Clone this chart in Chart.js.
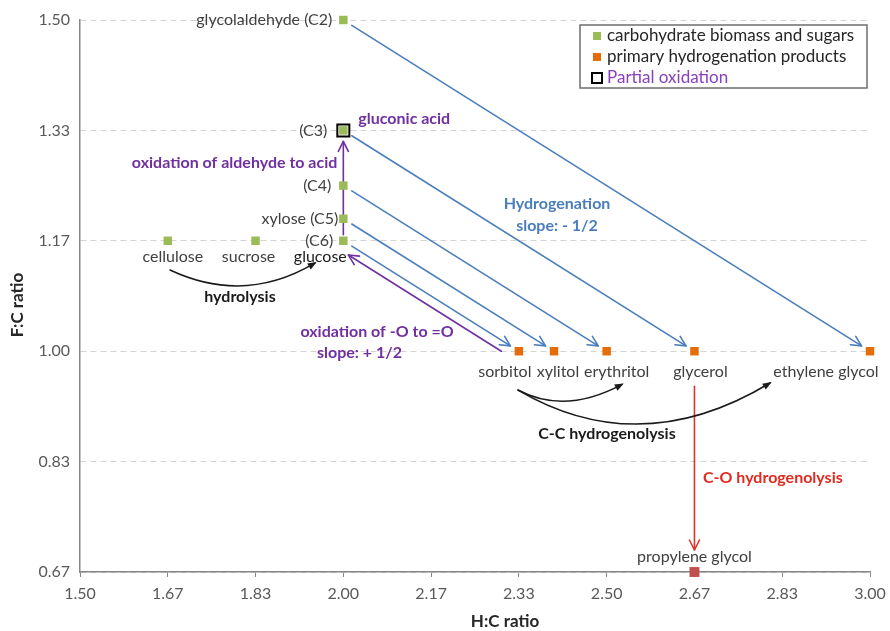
<!DOCTYPE html>
<html>
<head>
<meta charset="utf-8">
<script src="https://cdn.jsdelivr.net/npm/chart.js@4.4.1/dist/chart.umd.min.js"></script>
<style>
  html, body { margin: 0; padding: 0; background: #fff; }
  #wrap { width: 890px; height: 631px; position: relative; }
</style>
</head>
<body>
<div id="wrap"><canvas id="chart"></canvas></div>
<script>
// carbohydrate biomass and sugars
const carbNames = ['cellulose', 'sucrose', 'glucose', 'xylose', 'C4', 'C3', 'glycolaldehyde'];
const carbHC = [1.6667, 1.8333, 2.0, 2.0, 2.0, 2.0, 2.0];
const carbFC = [1.1667, 1.1667, 1.1667, 1.2, 1.25, 1.3333, 1.5];

// primary hydrogenation products
const productNames = ['sorbitol', 'xylitol', 'erythritol', 'glycerol', 'ethylene glycol'];
const productHC = [2.3333, 2.4, 2.5, 2.6667, 3.0];
const productFC = [1.0, 1.0, 1.0, 1.0, 1.0];

// C-O hydrogenolysis product
const glycolHC = [2.6667];
const glycolFC = [0.6667];

// partial oxidation (gluconic acid)
const oxidHC = [2.0];
const oxidFC = [1.3333];

// axis ticks
const xTickValues = [1.5, 1.6667, 1.8333, 2.0, 2.1667, 2.3333, 2.5, 2.6667, 2.8333, 3.0];
const yTickValues = [0.6667, 0.8333, 1.0, 1.1667, 1.3333, 1.5];

// hydrogenation: sugar index -> product index
const hydroFrom = [6, 5, 4, 3, 2];
const hydroTo = [4, 3, 2, 1, 0];

const GREEN = '#9bbb59';
const ORANGE = '#e46c0a';
const RED = '#c0504d';
const BLUE = '#4a7ebb';
const PURPLE = '#7030a0';
const TEXT = '#404040';
const FONT = 'Lato, "Open Sans", sans-serif';

const toPoints = (xs, ys) => xs.map((x, i) => ({ x: x, y: ys[i] }));

// free text placed in data space (x, y) with pixel nudges
const notes = [
  { text: 'glycolaldehyde (C2)', x: 2.0, y: 1.5, dx: -11, dy: 0, align: 'right' },
  { text: '(C3)', x: 2.0, y: 1.3333, dx: -16, dy: 0, align: 'right' },
  { text: 'gluconic acid', x: 2.0, y: 1.3333, dx: 15, dy: -12, align: 'left', bold: true, color: PURPLE },
  { text: 'oxidation of aldehyde to acid', x: 2.0, y: 1.3333, dx: -6, dy: 32, align: 'right', bold: true, color: PURPLE },
  { text: '(C4)', x: 2.0, y: 1.25, dx: -12, dy: 0, align: 'right' },
  { text: 'xylose (C5)', x: 2.0, y: 1.2, dx: -5, dy: 0, align: 'right' },
  { text: '(C6)', x: 2.0, y: 1.1667, dx: -10, dy: 0, align: 'right' },
  { text: 'cellulose', x: 1.6667, y: 1.1667, dx: 5, dy: 16 },
  { text: 'sucrose', x: 1.8333, y: 1.1667, dx: -7, dy: 16 },
  { text: 'glucose', x: 2.0, y: 1.1667, dx: -23, dy: 16, color: '#1a1a1a' },
  { text: 'hydrolysis', x: 1.8038, y: 1.0818, bold: true, color: '#1a1a1a' },
  { text: 'Hydrogenation', x: 2.4057, y: 1.2222, bold: true, color: BLUE },
  { text: 'slope: - 1/2', x: 2.4057, y: 1.1890, bold: true, color: BLUE },
  { text: 'oxidation of -O to =O', x: 2.0640, y: 1.0290, bold: true, color: PURPLE },
  { text: 'slope: + 1/2', x: 2.0307, y: 0.9973, bold: true, color: PURPLE },
  { text: 'sorbitol', x: 2.3333, y: 1.0, dx: -14, dy: 21 },
  { text: 'xylitol', x: 2.4, y: 1.0, dx: 4, dy: 21 },
  { text: 'erythritol', x: 2.5, y: 1.0, dx: 10, dy: 21 },
  { text: 'glycerol', x: 2.6667, y: 1.0, dx: 6, dy: 21 },
  { text: 'ethylene glycol', x: 3.0, y: 1.0, dx: -44, dy: 21 },
  { text: 'C-C hydrogenolysis', x: 2.5006, y: 0.8750, bold: true, color: '#1a1a1a' },
  { text: 'C-O hydrogenolysis', x: 2.6829, y: 0.8086, align: 'left', bold: true, color: '#e02b20' },
  { text: 'propylene glycol', x: 2.6667, y: 0.6667, dx: 0, dy: -15 }
];

// straight arrows in data space; gaps in px at each end
const arrows = [];
hydroFrom.forEach((s, i) => {
  arrows.push({ from: [carbHC[s], carbFC[s]], to: [productHC[hydroTo[i]], productFC[hydroTo[i]]], color: BLUE, g1: 10, g2: 10 });
});
arrows.push({ from: [2.3, 1.0], to: [2.0, 1.15], color: PURPLE, g1: 0, g2: 6 });
arrows.push({ from: [carbHC[2], carbFC[2]], to: [oxidHC[0], oxidFC[0]], color: PURPLE, g1: 6, g2: 11 });
arrows.push({ from: [productHC[3], productFC[3]], to: [glycolHC[0], glycolFC[0]], color: '#d9362b', g1: 35, g2: 22 });

// curved arrows (quadratic) in data space
const curves = [
  { from: [1.6709, 1.1226], ctrl: [1.8133, 1.0697], to: [1.9462, 1.1332] },
  { from: [2.3316, 0.9414], ctrl: [2.4209, 0.9037], to: [2.5291, 0.9500] },
  { from: [2.3316, 0.9414], ctrl: [2.5633, 0.8335], to: [2.8101, 0.9520] }
];

const legendItems = [
  { text: 'carbohydrate biomass and sugars', fill: GREEN, color: '#262626' },
  { text: 'primary hydrogenation products', fill: ORANGE, color: '#262626' },
  { text: 'Partial oxidation', fill: null, color: '#8a3fc0' }
];

function openHead(ctx, ex, ey, ux, uy, len, half) {
  const px = -uy, py = ux;
  ctx.beginPath();
  ctx.moveTo(ex - ux * len + px * half, ey - uy * len + py * half);
  ctx.lineTo(ex, ey);
  ctx.lineTo(ex - ux * len - px * half, ey - uy * len - py * half);
  ctx.stroke();
}

const annotate = {
  id: 'annotate',
  beforeDatasetsDraw(chart) {
    const { ctx, scales } = chart;
    const X = v => scales.x.getPixelForValue(v);
    const Y = v => scales.y.getPixelForValue(v);
    ctx.save();
    ctx.lineCap = 'round';
    ctx.lineJoin = 'round';
    arrows.forEach(a => {
      const x1 = X(a.from[0]), y1 = Y(a.from[1]), x2 = X(a.to[0]), y2 = Y(a.to[1]);
      const len = Math.hypot(x2 - x1, y2 - y1);
      const ux = (x2 - x1) / len, uy = (y2 - y1) / len;
      const sx = x1 + ux * a.g1, sy = y1 + uy * a.g1;
      const ex = x2 - ux * a.g2, ey = y2 - uy * a.g2;
      ctx.strokeStyle = a.color;
      ctx.lineWidth = 1.6;
      ctx.beginPath();
      ctx.moveTo(sx, sy);
      ctx.lineTo(ex, ey);
      ctx.stroke();
      openHead(ctx, ex, ey, ux, uy, 10, 5);
    });
    curves.forEach(c => {
      const x0 = X(c.from[0]), y0 = Y(c.from[1]);
      const cx = X(c.ctrl[0]), cy = Y(c.ctrl[1]);
      const x2 = X(c.to[0]), y2 = Y(c.to[1]);
      ctx.strokeStyle = '#1a1a1a';
      ctx.fillStyle = '#1a1a1a';
      ctx.lineWidth = 1.5;
      ctx.beginPath();
      ctx.moveTo(x0, y0);
      ctx.quadraticCurveTo(cx, cy, x2, y2);
      ctx.stroke();
      const len = Math.hypot(x2 - cx, y2 - cy);
      const ux = (x2 - cx) / len, uy = (y2 - cy) / len;
      const px = -uy, py = ux;
      ctx.beginPath();
      ctx.moveTo(x2 + ux * 2, y2 + uy * 2);
      ctx.lineTo(x2 - ux * 7 + px * 3.5, y2 - uy * 7 + py * 3.5);
      ctx.lineTo(x2 - ux * 7 - px * 3.5, y2 - uy * 7 - py * 3.5);
      ctx.closePath();
      ctx.fill();
    });
    ctx.restore();
  },
  afterDatasetsDraw(chart) {
    const { ctx, scales, chartArea } = chart;
    const X = v => scales.x.getPixelForValue(v);
    const Y = v => scales.y.getPixelForValue(v);
    ctx.save();
    ctx.textBaseline = 'middle';
    notes.forEach(n => {
      ctx.font = (n.bold ? 'bold ' : '') + '16px ' + FONT;
      ctx.fillStyle = n.color || TEXT;
      ctx.textAlign = n.align || 'center';
      ctx.fillText(n.text, X(n.x) + (n.dx || 0), Y(n.y) + (n.dy || 0));
    });

    // axis titles
    ctx.font = 'bold 17px ' + FONT;
    ctx.fillStyle = '#262626';
    ctx.textAlign = 'center';
    ctx.fillText('H:C ratio', (chartArea.left + chartArea.right) / 2 + 30, chartArea.bottom + 50);
    ctx.save();
    ctx.translate(18, (chartArea.top + chartArea.bottom) / 2 + 9);
    ctx.rotate(-Math.PI / 2);
    ctx.fillText('F:C ratio', 0, 0);
    ctx.restore();

    // legend box
    const lx = chartArea.right - 290, ly = chartArea.top + 5;
    ctx.strokeStyle = '#6e6e6e';
    ctx.lineWidth = 1.5;
    ctx.strokeRect(lx, ly, 287, 63);
    ctx.font = '17px ' + FONT;
    ctx.textAlign = 'left';
    legendItems.forEach((it, i) => {
      const cy = ly + 11 + i * 21;
      if (it.fill) {
        ctx.fillStyle = it.fill;
        ctx.fillRect(lx + 13, cy - 4, 8, 8);
      } else {
        ctx.strokeStyle = '#000';
        ctx.lineWidth = 2;
        ctx.strokeRect(lx + 12, cy - 5, 10, 10);
      }
      ctx.fillStyle = it.color;
      ctx.fillText(it.text, lx + 27, cy);
    });
    ctx.restore();
  }
};

new Chart(document.getElementById('chart').getContext('2d'), {
  type: 'scatter',
  data: {
    datasets: [{
      label: 'carbohydrate biomass and sugars',
      data: toPoints(carbHC, carbFC),
      backgroundColor: GREEN,
      borderColor: GREEN,
      pointStyle: 'rect',
      pointRadius: 6,
      borderWidth: 0,
      clip: false
    }, {
      label: 'primary hydrogenation products',
      data: toPoints(productHC, productFC),
      backgroundColor: ORANGE,
      borderColor: ORANGE,
      pointStyle: 'rect',
      pointRadius: 6,
      borderWidth: 0,
      clip: false
    }, {
      label: 'propylene glycol',
      data: toPoints(glycolHC, glycolFC),
      backgroundColor: RED,
      borderColor: RED,
      pointStyle: 'rect',
      pointRadius: 7,
      borderWidth: 0,
      clip: false
    }, {
      label: 'Partial oxidation',
      data: toPoints(oxidHC, oxidFC),
      backgroundColor: 'rgba(0,0,0,0)',
      borderColor: '#000',
      pointStyle: 'rect',
      pointRadius: 8.5,
      borderWidth: 2,
      clip: false
    }]
  },
  options: {
    responsive: true,
    maintainAspectRatio: false,
    animation: false,
    layout: {
      padding: { top: 20, right: 20, left: 0, bottom: 0 }
    },
    scales: {
      x: {
        type: 'linear',
        min: 1.5,
        max: 3.0,
        afterBuildTicks: (scale) => { scale.ticks = xTickValues.map(v => ({ value: v })); },
        afterFit: (scale) => {
          scale.height = 59;
          scale.paddingLeft = 0;
          scale.paddingRight = 0;
        },
        grid: {
          drawOnChartArea: false,
          drawTicks: true,
          tickLength: 5,
          color: '#868686'
        },
        border: {
          color: '#868686',
          width: 1.5
        },
        ticks: {
          color: '#595959',
          font: { family: FONT, size: 16 },
          padding: 7,
          maxRotation: 0,
          callback: (value) => value.toFixed(2)
        }
      },
      y: {
        type: 'linear',
        min: 0.6667,
        max: 1.5,
        afterBuildTicks: (scale) => { scale.ticks = yTickValues.map(v => ({ value: v })); },
        afterFit: (scale) => {
          scale.width = 80;
          scale.paddingTop = 0;
          scale.paddingBottom = 0;
        },
        grid: {
          color: '#d4d4d4',
          drawTicks: false
        },
        border: {
          color: '#868686',
          width: 1.5,
          dash: [6, 4]
        },
        ticks: {
          color: '#595959',
          font: { family: FONT, size: 16 },
          padding: 10,
          callback: (value) => value.toFixed(2)
        }
      }
    },
    plugins: {
      legend: { display: false },
      tooltip: { enabled: false }
    }
  },
  plugins: [annotate]
});
</script>
</body>
</html>
